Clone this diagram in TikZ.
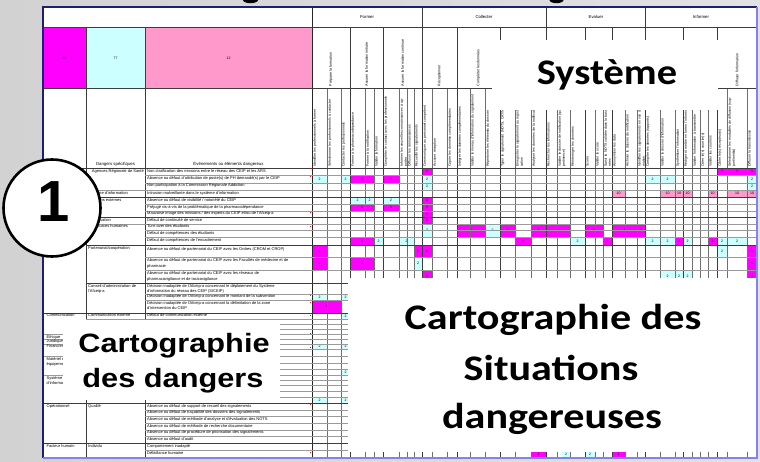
\documentclass[tikz,border=0pt]{standalone}
\usepackage{fontspec}
\setmainfont{Liberation Sans}
\newfontfamily\calib{Carlito}
\definecolor{hazardmag}{HTML}{FF00FF}
\definecolor{hazardcyan}{HTML}{CCFFFF}
\definecolor{hazardpink}{HTML}{FF99CC}
\definecolor{framenavy}{HTML}{1E1E78}
\definecolor{frameblue}{HTML}{8484E6}
\definecolor{gridgray}{HTML}{9A9A9A}
\definecolor{gridmid}{HTML}{6E6E6E}
\definecolor{griddark}{HTML}{3C3C3C}
\definecolor{bgleft}{HTML}{D2D2D2}
\definecolor{bgright}{HTML}{E2E2E2}
\definecolor{notered}{HTML}{E02020}
\tikzset{
  thin grid/.style={draw=gridgray, line width=0.45pt},
  column grid/.style={draw=gridmid, line width=0.5pt},
  group grid/.style={draw=griddark, line width=0.8pt},
  major grid/.style={draw=black!85, line width=1pt},
  cell text/.style={font=\fontsize{4}{5.6}\selectfont, inner sep=0pt, align=left, anchor=north west},
  head text/.style={font=\fontsize{4.3}{5}\selectfont, inner sep=0pt, anchor=base},
  col label/.style={font=\fontsize{3.5}{4.2}\selectfont, inner sep=0pt, rotate=90, anchor=north west, text width=74pt, align=left},
  sub label/.style={font=\fontsize{3.6}{4.2}\selectfont, inner sep=0pt, rotate=90, anchor=west},
  num/.style={font=\fontsize{3.5}{4}\selectfont, inner sep=0pt},
  cover/.style={fill=white, draw=none},
  big calibri/.style={font=\calib\bfseries\fontsize{36}{40}\selectfont, inner sep=0pt, anchor=base, xscale=1.17},
  big arial/.style={font=\bfseries\fontsize{26.5}{30}\selectfont, inner sep=0pt, anchor=base, xscale=1.16},
}
\begin{document}
\begin{tikzpicture}[x=1pt,y=-1pt]
\useasboundingbox (0,0) rectangle (760,462);
\shade[left color=bgleft, right color=bgright] (0,0) rectangle (760,462);

% title letters cut by the top edge
\fill[black] (250.5,0) ellipse [x radius=7.5, y radius=3.2];
\fill[black] (556.5,0) ellipse [x radius=7, y radius=3.2];

% sheet
\fill[white] (43,7) rectangle (757,458);
\fill[hazardmag] (43,27) rectangle (86,88);
\fill[hazardcyan] (86,27) rectangle (145,88);
\fill[hazardpink] (145,27) rectangle (312,88);
\node[num] (code01) at (64.5,58) {01};
\node[num] (code77) at (115.5,58) {77};
\node[num] (code12) at (228.5,58) {12};

% coloured matrix cells
\foreach \xa/\xb/\ya/\yb/\cl/\val [count=\idx] in {
  422/432/168/175/hazardmag/1, 717/727/168/175/hazardmag/1, 727/747/168/175/hazardmag/1, 747/757/168/175/hazardmag/1,
  312/327/175/183/hazardcyan/2, 341/350/175/183/hazardcyan/2, 350/374/175/183/hazardmag/1, 383/399/175/183/hazardmag/1,
  422/432/175/183/hazardcyan/2, 645/660/175/183/hazardcyan/2, 660/675/175/183/hazardcyan/2, 747/757/175/183/hazardcyan/2,
  422/432/183/190/hazardcyan/2, 747/757/183/190/hazardcyan/2,
  612/625/190/197/hazardpink/10, 660/675/190/197/hazardpink/10, 675/683/190/197/hazardpink/10, 683/692/190/197/hazardpink/10,
  708/717/190/197/hazardpink/10, 727/747/190/197/hazardpink/10, 747/757/190/197/hazardpink/10,
  350/365/197/204/hazardcyan/2, 365/374/197/204/hazardcyan/2, 383/399/197/204/hazardcyan/2, 422/432/197/204/hazardmag/1,
  350/374/204/211/hazardmag/1, 383/399/204/211/hazardmag/1, 422/432/204/211/hazardmag/1,
  422/432/211/217/hazardmag/1, 422/432/217/224/hazardmag/1,
  422/432/224/237/hazardcyan/2, 457/485/224/237/hazardmag/1, 485/500/224/237/hazardcyan/2, 500/515/224/237/hazardmag/1,
  531/546/224/237/hazardmag/1, 546/570/224/237/hazardmag/1, 585/603/224/237/hazardmag/1, 612/637/224/237/hazardmag/1,
  637/645/224/237/hazardmag/1,
  350/374/237/245/hazardmag/1, 374/383/237/245/hazardcyan/2, 399/414/237/245/hazardcyan/2, 515/531/237/245/hazardmag/1,
  570/585/237/245/hazardcyan/2, 603/612/237/245/hazardmag/1, 645/660/237/245/hazardcyan/2, 660/675/237/245/hazardcyan/2,
  675/683/237/245/hazardmag/1, 683/692/237/245/hazardcyan/2, 708/717/237/245/hazardmag/1, 717/727/237/245/hazardcyan/2,
  727/747/237/245/hazardcyan/2,
  312/327/245/257/hazardmag/1, 414/422/245/257/hazardmag/1, 422/432/245/257/hazardmag/1, 717/727/245/257/hazardcyan/2,
  747/757/245/257/hazardmag/1,
  312/327/257/270/hazardmag/1, 350/374/257/270/hazardmag/1, 414/422/257/270/hazardcyan/2, 747/757/257/270/hazardmag/1,
  422/432/270/283/hazardmag/1, 660/675/270/283/hazardcyan/2, 675/683/270/283/hazardcyan/2, 683/692/270/283/hazardcyan/2,
  747/757/270/283/hazardmag/1,
  312/327/294/300/hazardcyan/2, 341/350/294/300/hazardcyan/2,
  312/341/300/313/hazardmag/1,
  341/350/313/319/hazardcyan/2,
  312/327/344/349/hazardcyan/2, 341/350/344/349/hazardcyan/2,
  341/350/369/375/hazardcyan/2,
  312/327/397/403/hazardcyan/2, 341/350/397/403/hazardcyan/2,
  531/546/450/458/hazardmag/1, 562/570/450/458/hazardcyan/2, 585/595/450/458/hazardcyan/2, 612/625/450/458/hazardmag/1}
{
  \fill[\cl] (\xa,\ya) rectangle (\xb,\yb);
  \node[num] (cell\idx) at ({(\xa+\xb)/2},{(\ya+\yb)/2}) {\val};
}

% grid: columns of the matrix
\foreach \x in {327,341,350,365,374,383,399,407,414,422,432,447,457,470,485,500,515,531,546,557,570,585,595,603,612,625,637,645,660,675,683,692,700,708,717,727,747}
  \draw[column grid] (\x,88) -- (\x,458);
\foreach \x in {350,383,457,500,585,612,683,717}
  \draw[group grid, line width=0.6pt] (\x,27) -- (\x,458);
\foreach \x in {422,546,645}
  \draw[group grid] (\x,7) -- (\x,458);
\draw[major grid] (312,7) -- (312,458);
\draw[group grid] (86,27) -- (86,458);
\draw[group grid] (145,27) -- (145,458);

% grid: rows
\foreach \y in {175,183,190,204,211,224,230,237,257,270,294,300,319,324,329,334,339,344,349,356,363,369,375,380,385,391,397,410,416,423,430,436,450}
  \draw[thin grid] (145,\y) -- (757,\y);
\foreach \y in {197,217,245,283}
  \draw[group grid] (86,\y) -- (757,\y);
\foreach \y in {313,403,443}
  \draw[group grid] (43,\y) -- (757,\y);
\foreach \y in {190,224,319,334,339,344,356,375}
  \draw[thin grid] (86,\y) -- (145,\y);
\foreach \y in {334,339,344,356,375}
  \draw[thin grid] (43,\y) -- (86,\y);
\draw[group grid] (43,27) -- (757,27);
\draw[group grid] (43,88) -- (757,88);
\draw[group grid] (43,168) -- (757,168);

% comment markers
\foreach \y in {168,176,183,212,226,295,302,315,333,339,347,404,452}
  \fill[notered] (309.6,\y) rectangle (311.2,\y+1.4);

% process groups
\node[head text] (gFormer) at (367,19) {Former};
\node[head text] (gCollect) at (484,19) {Collecter};
\node[head text] (gEval) at (596,19) {Evaluer};
\node[head text] (gInform) at (701,19) {Informer};

% sub-processes
\node[sub label] (sp1) at (331,86.5) {Préparer la formation};
\node[sub label] (sp2) at (366.5,86.5) {Assurer la formation initiale};
\node[sub label] (sp3) at (402.5,86.5) {Assurer la formation continue};
\node[sub label] (sp4) at (439.5,86.5) {Réceptionner};
\node[sub label] (sp5) at (478.5,86.5) {Compléter les données};
\node[sub label] (sp6) at (737,86.5) {Diffuser l'information};

% tasks
\foreach \xl/\lab [count=\idx] in {
  312/{Identifier les professionnels à former},
  327/{Sélectionner les professionnels à contacter},
  341/{Contacter les professionnels},
  350/{Former à la pharmacodépendance},
  365/{Former à la notification},
  374/{Valider la formation},
  383/{Compléter le contact avec les professionnels},
  399/{Informer les nouvelles connaissances à apporter},
  407/{Diffuser les connaissances},
  414/{Recueillir les signalements},
  422/{Communiquer au personnel compétent},
  432/{Accuser réception},
  447/{Copier les données complémentaires},
  457/{Intégrer les données complémentaires},
  470/{Valider le niveau d'information du signalement},
  485/{Répertorier les éléments du dossier},
  500/{Typer le signalement (NOTS, CAT/NOTS)},
  515/{Enregistrer le signalement au registre de notification},
  531/{Analyser les données de la notification},
  546/{Rechercher les informations},
  557/{Valider le dossier de notification (qualité et pertinence)},
  570/{Réinterroger les données},
  585/{Scorer},
  595/{Valider le score},
  603/{Saisir la NOTS validée dans la base de données},
  612/{Anonymiser les data},
  625/{Archiver le dossier de notification},
  637/{Identifier les signalements en vue d'une information},
  645/{Compiler les données (rapports)},
  660/{Valider le dossier d'information},
  675/{Synthétiser l'information},
  683/{Rédiger et mettre en forme l'information},
  692/{Valider l'information à transmettre},
  700/{Créer le(s) courrier(s)},
  708/{Valider les courriers},
  717/{Cibler le(s) récepteur(s)},
  727/{Sélectionner les modalités de diffusion (support/média)},
  747/{Diffuser la transmission}}
  \node[col label] (task\idx) at (\xl+1,167) {\lab};

% row headings
\node[head text] (hDangers) at (115.5,166) {Dangers spécifiques};
\node[head text] (hEvents) at (228.5,166) {Événements ou éléments dangereux};

% categories
\node[cell text] (cat1) at (46.5,313.8) {Communication};
\node[cell text] (cat2) at (46.5,334.6) {Éthique};
\node[cell text] (cat3) at (46.5,339.6) {Juridique};
\node[cell text] (cat4) at (46.5,344.6) {Financier};
\node[cell text] (cat5) at (46.5,357) {Matériel et\\équipement};
\node[cell text] (cat6) at (46.5,376) {Système\\d'information};
\node[cell text] (cat7) at (46.5,404) {Opérationnel};
\node[cell text] (cat8) at (46.5,444) {Facteur humain};

% specific hazards
\node[cell text, anchor=north east] (dg1) at (144,169) {Agences Régionale de Santé};
\node[cell text] (dg2) at (88,191) {Système d'information};
\node[cell text] (dg3) at (88,198) {Relations externes};
\node[cell text] (dg4) at (88,218) {Organisation};
\node[cell text] (dg5) at (88,224.6) {Ressources humaines};
\node[cell text] (dg6) at (88,246.8) {Partenariat/coopération};
\node[cell text] (dg7) at (88,284) {Conseil d'administration de\\l'Afceip-a};
\node[cell text] (dg8) at (88,313.8) {Communication externe};
\node[cell text] (dg9) at (88,404) {Qualité};
\node[cell text] (dg10) at (88,444) {Individu};

% hazardous events
\node[cell text] (ev1) at (147,169) {Non clarification des missions entre le réseau des CEIP et les ARS};
\node[cell text] (ev2) at (147,176.4) {Absence ou défaut d'attribution de poste(s) de PH demandé(s) par le CEIP};
\node[cell text] (ev3) at (147,183.8) {Non participation à la Commission Régionale Addiction};
\node[cell text] (ev4) at (147,191) {Intrusion malveillante dans le système d'information};
\node[cell text] (ev5) at (147,198) {Absence ou défaut de visibilité / notoriété du CEIP};
\node[cell text] (ev6) at (147,205) {Préjugé vis-à-vis de la problématique de la pharmacodépendance};
\node[cell text] (ev7) at (147,211.4) {Mauvaise image des missions / des experts du CEIP et/ou de l'Afceip-a};
\node[cell text] (ev8) at (147,218) {Défaut de continuité de service};
\node[cell text] (ev9) at (147,224.6) {Turn-over des étudiants};
\node[cell text] (ev10) at (147,231) {Défaut de compétences des étudiants};
\node[cell text] (ev11) at (147,238.2) {Défaut de compétences de l'encadrement};
\node[cell text] (ev12) at (147,247) {Absence ou défaut de partenariat du CEIP avec les Ordres (CROM et CROP)};
\node[cell text] (ev13) at (147,258.4) {Absence ou défaut de partenariat du CEIP avec les Facultés de médecine et de\\pharmacie};
\node[cell text] (ev14) at (147,271.4) {Absence ou défaut de partenariat du CEIP avec les réseaux de\\pharmacovigilance et de toxicovigilance};
\node[cell text] (ev15) at (147,284) {Décision inadaptée de l'Afceip-a concernant le déploiement du Système\\d'information du réseau des CEIP (SICEIP)};
\node[cell text] (ev16) at (147,294.8) {Décision inadaptée de l'Afceip-a concernant le montant de la subvention};
\node[cell text] (ev17) at (147,301) {Décision inadaptée de l'Afceip-a concernant la délimitation de la zone\\d'intervention du CEIP};
\node[cell text] (ev18) at (147,313.8) {Défaut de communication externe};
\node[cell text] (ev19) at (147,404) {Absence ou défaut de support de recueil des signalements};
\node[cell text] (ev20) at (147,410.6) {Absence ou défaut de traçabilité des dossiers des signalements};
\node[cell text] (ev21) at (147,417.4) {Absence ou défaut de méthode d'analyse et d'évaluation des NOTS};
\node[cell text] (ev22) at (147,424.2) {Absence ou défaut de méthode de recherche documentaire};
\node[cell text] (ev23) at (147,430.6) {Absence ou défaut de procédure de priorisation des signalements};
\node[cell text] (ev24) at (147,437.2) {Absence ou défaut d'audit};
\node[cell text] (ev25) at (147,444) {Comportement inadapté};
\node[cell text] (ev26) at (147,451) {Défaillance humaine};

% sheet frame
\draw[framenavy, line width=1.2pt] (43,458) -- (43,7) -- (757,7);
\draw[frameblue, line width=1.5pt] (757,7) -- (757,458) -- (43,458);

% captions laid over the sheet
\fill[cover] (492,40) rectangle (718,110);
\node[big calibri, xscale=0.96] (sys) at (607,85) {Système};

\fill[cover] (348,278) rectangle (755.5,452);
\node[big calibri] (sit1) at (553,329) {Cartographie des};
\node[big calibri] (sit2) at (551,380) {Situations};
\node[big calibri] (sit3) at (552,428) {dangereuses};

\fill[cover] (63,320) rectangle (280,400);
\node[big arial] (dan1) at (174,352) {Cartographie};
\node[big arial] (dan2) at (173,387) {des dangers};

\node[draw=black, fill=white, circle, line width=2.6pt, minimum size=97pt, inner sep=0pt] (badge) at (52,208) {};
\node[font=\bfseries\fontsize{58}{58}\selectfont, inner sep=0pt, anchor=base] (badgeNum) at (54,222) {1};
\end{tikzpicture}
\end{document}
